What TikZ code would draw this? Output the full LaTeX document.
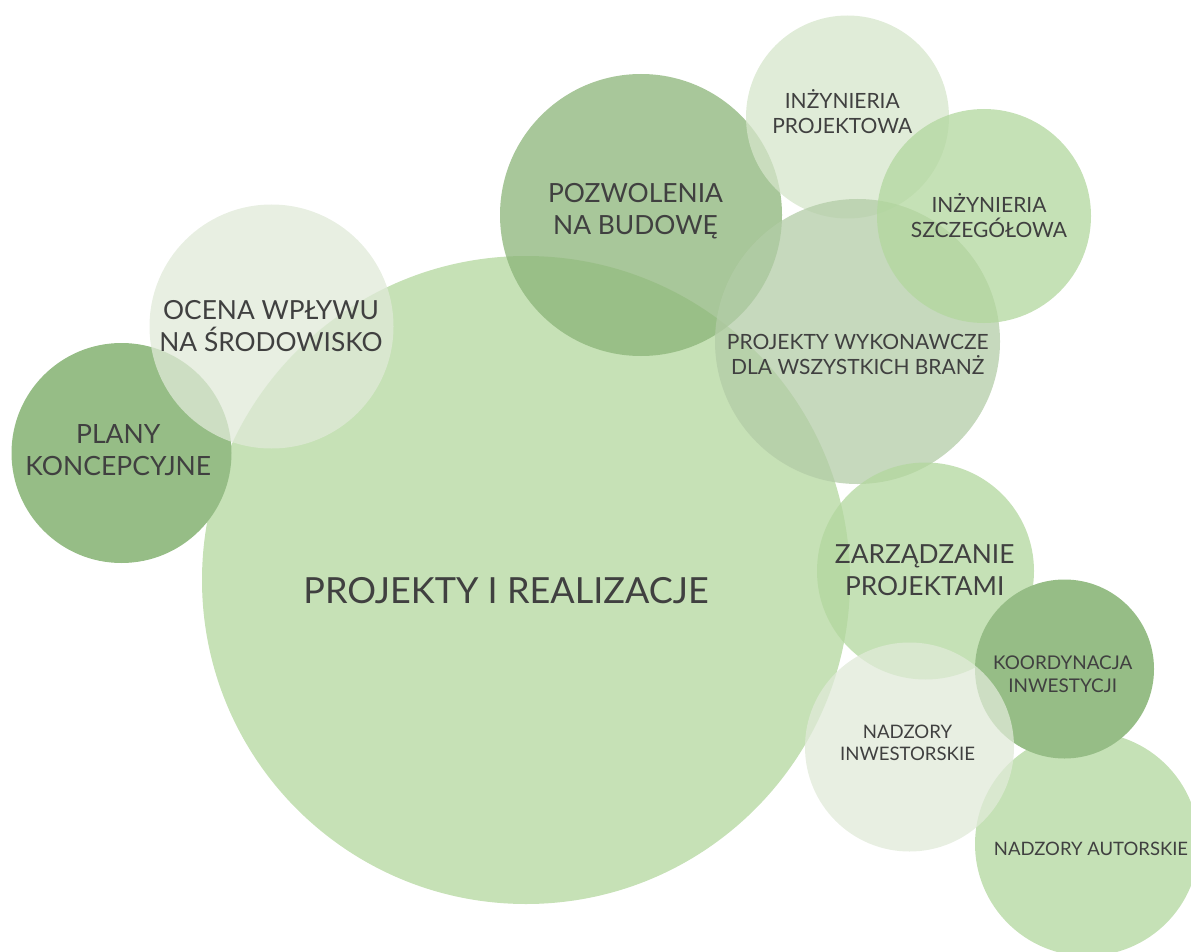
\documentclass[tikz,border=0pt]{standalone}
\usepackage{fontspec}
\setmainfont{Lato}
\definecolor{bigfill}{RGB}{198,225,182}
\definecolor{lightg}{RGB}{178,215,158}
\definecolor{midg}{RGB}{150,189,134}
\definecolor{paleg}{RGB}{224,234,216}
\definecolor{pale2}{RGB}{214,230,203}
\definecolor{pozg}{RGB}{139,180,120}
\definecolor{grayg}{RGB}{179,204,167}
\definecolor{txtc}{RGB}{64,64,64}
\tikzset{
  bub/.style={fill=#1, fill opacity=0.75, draw=none},
  solidbub/.style={fill=#1, draw=none},
  lbl/.style={text=txtc, align=center, inner sep=0pt, anchor=center},
}
\newcommand{\fsz}[2]{\fontsize{#1}{#2}\selectfont}
\begin{document}
\begin{tikzpicture}[x=1pt,y=-1pt]
\useasboundingbox (0,0) rectangle (1191,952);
\clip (0,0) rectangle (1191,952);
% circles
\fill[solidbub=bigfill] (526,580) circle[radius=324pt];
\fill[solidbub=midg] (121.5,453) circle[radius=110pt];
\fill[bub=paleg] (271.5,326.5) circle[radius=122pt];
\fill[bub=pozg] (641,215) circle[radius=141pt];
\fill[bub=pale2] (847.5,117) circle[radius=101.5pt];
\fill[bub=grayg] (857.5,341.5) circle[radius=142.5pt];
\fill[bub=lightg] (984,216) circle[radius=107pt];
\fill[bub=lightg] (925.5,571) circle[radius=108.5pt];
\fill[bub=lightg] (1087,844) circle[radius=112pt];
\fill[solidbub=midg] (1064.5,669) circle[radius=89.5pt];
\fill[bub=paleg] (909.5,747) circle[radius=104.5pt];
% labels
\node[lbl, font=\fsz{36}{40}] (main) at (506,591) {PROJEKTY I REALIZACJE};
\node[lbl, font=\fsz{26.5}{32}] (plany) at (118.3,449.8) {PLANY\\KONCEPCYJNE};
\node[lbl, font=\fsz{26.3}{31.5}] (ocena) at (271,326.3) {OCENA WPŁYWU\\NA ŚRODOWISKO};
\node[lbl, font=\fsz{26.4}{32}] (pozw) at (635.5,211.5) {POZWOLENIA\\NA BUDOWĘ};
\node[lbl, font=\fsz{21}{25}] (inzp) at (842.3,111.2) {INŻYNIERIA\\PROJEKTOWA};
\node[lbl, font=\fsz{21}{25}] (inzs) at (989,216) {INŻYNIERIA\\SZCZEGÓŁOWA};
\node[lbl, font=\fsz{21}{25.5}] (wyk) at (857.8,354.3) {PROJEKTY WYKONAWCZE\\DLA WSZYSTKICH BRANŻ};
\node[lbl, font=\fsz{26.3}{32}] (zarz) at (924.7,570.2) {ZARZĄDZANIE\\PROJEKTAMI};
\node[lbl, font=\fsz{18.9}{22.5}] (koord) at (1062.7,674.2) {KOORDYNACJA\\INWESTYCJI};
\node[lbl, font=\fsz{18.6}{22.8}] (nadzi) at (907.5,742.8) {NADZORY\\INWESTORSKIE};
\node[lbl, font=\fsz{18.5}{22}] (nadza) at (1091,848.7) {NADZORY AUTORSKIE};
\end{tikzpicture}
\end{document}
